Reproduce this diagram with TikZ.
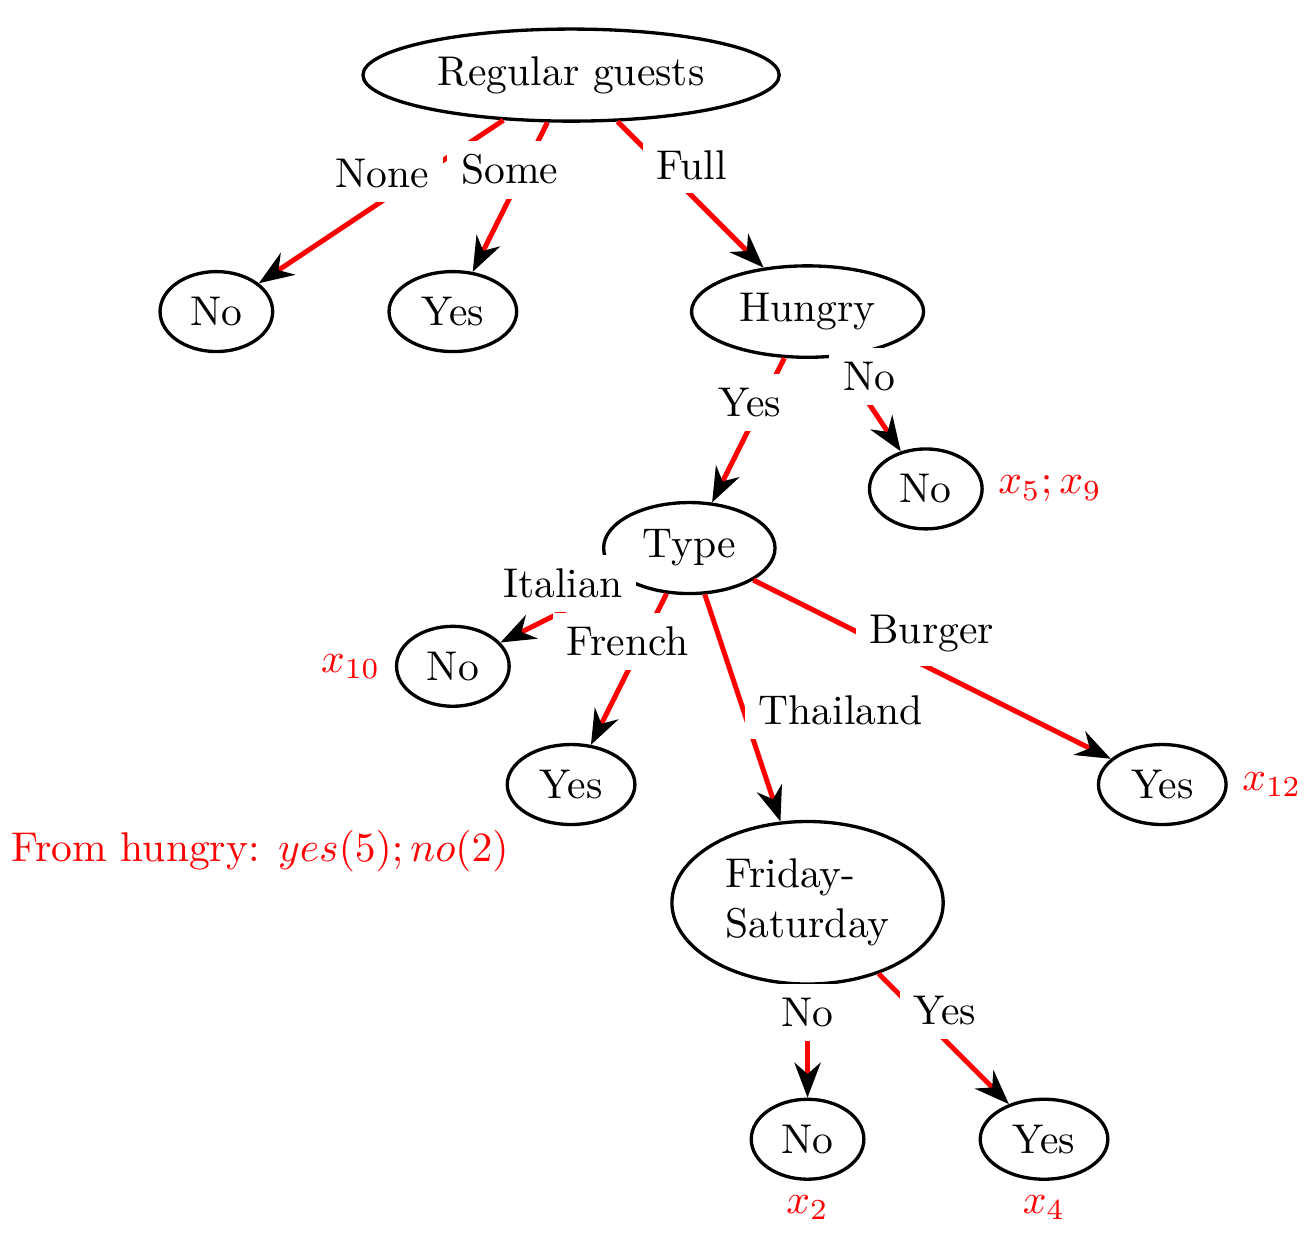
\documentclass[tikz,border=0pt]{standalone}
\usepackage{amsmath}
\usepackage{tikz}
\usetikzlibrary{shapes.geometric, positioning}
\usetikzlibrary{arrows.meta}
\tikzset{>={Stealth[black]}}
\tikzset{
  dec/.style={ellipse, draw, thick},
  edge/.style={->, red, very thick},
  lbl/.style={fill=white},
  note/.style={red}
}

\begin{document}
\begin{tikzpicture}
			\useasboundingbox (-4.83,0.635) rectangle (6.30,-9.805);
			% nodes
			\node[dec] (guests) at (0,0) {Regular guests};
			\node[dec] (none) at (-3,-2) {No};
			\node[dec] (some) at (-1,-2) {Yes};
			\node[dec] (hungry) at (2,-2) {Hungry};
			\node[dec, label={[note]right:$x_5;x_9$}] (nothungry) at (3,-3.5) {No};
			\node[dec] (type) at (1,-4) {Type};
			\node[dec, label={[note]left:$x_{10}$}] (italian) at (-1,-5) {No};
			\node[dec] (french) at (0,-6) {Yes};
			\node[dec, label={[note]right:$x_{12}$}] (burger) at (5,-6) {Yes};
			\node[dec, align=left] (frisat) at (2,-7) {Friday-\\Saturday};
			\node[dec, label={[note]below:$x_2$}] (notfrisat) at (2,-9) {No};
			\node[dec, label={[note]below:$x_4$}] (isfrisat) at (4,-9) {Yes};
			\node[note] (fromhungry) at (-2.63,-6.56) {From hungry: $yes(5);no(2)$};
			% connectors
			\foreach \a/\b in {guests/none, guests/some, guests/hungry, hungry/type, hungry/nothungry,
			                   type/italian, type/french, type/frisat, type/burger, frisat/notfrisat, frisat/isfrisat}
			  \draw[edge] (\a) -- (\b);
			% labels
			\node[lbl] (lnone) at (-1.60,-0.83) {None};
			\node[lbl] (lsome) at (-0.52,-0.80) {Some};
			\node[lbl] (lfull) at (1.02,-0.76) {Full};
			\node[lbl] (lhyes) at (1.51,-2.77) {Yes};
			\node[lbl] (lhno) at (2.52,-2.55) {No};
			\node[lbl] (litalian) at (-0.07,-4.30) {Italian};
			\node[lbl] (lfrench) at (0.48,-4.79) {French};
			\node[lbl] (lthai) at (2.28,-5.37) {Thailand};
			\node[lbl] (lburger) at (3.05,-4.72) {Burger};
			\node[lbl] (lfsno) at (2.0,-7.93) {No};
			\node[lbl] (lfsyes) at (3.16,-7.91) {Yes};
		\end{tikzpicture}
\end{document}
